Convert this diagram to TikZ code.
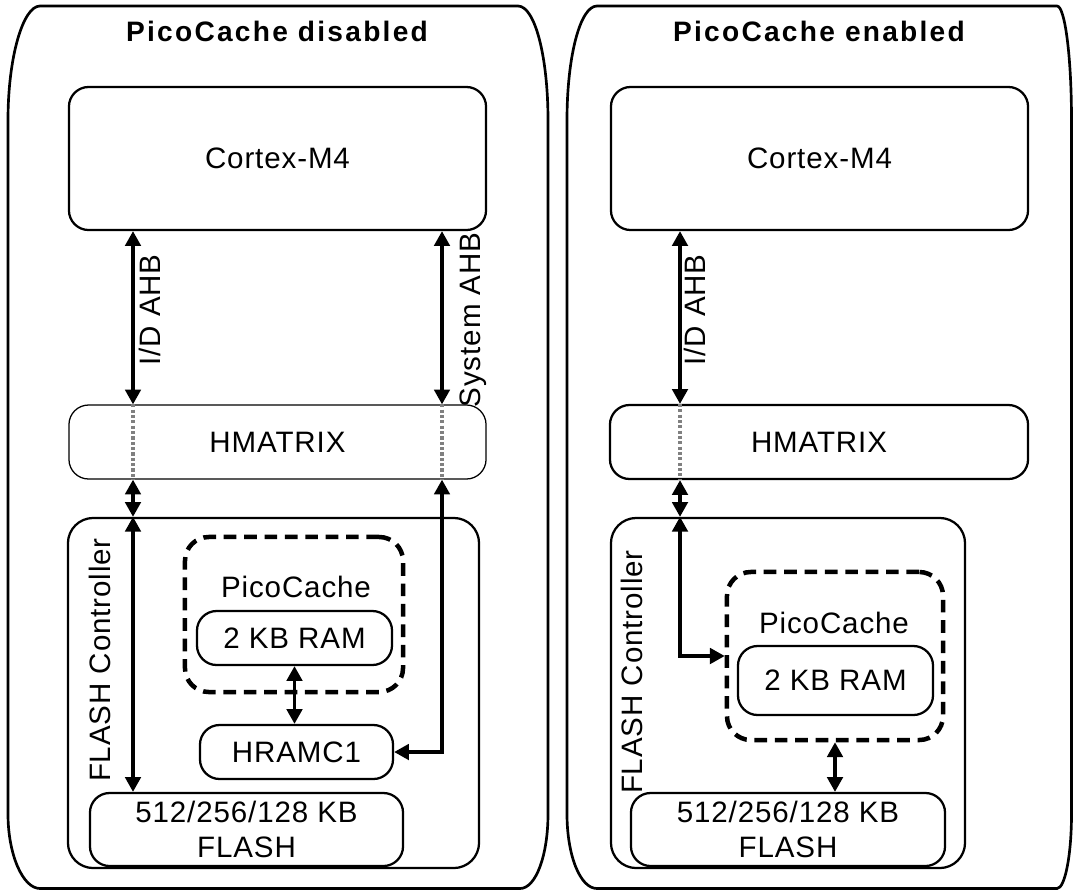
\documentclass[tikz,border=0pt]{standalone}
\usepackage{fontspec}
\setmainfont{Liberation Sans}
\newfontfamily\lblfont[LetterSpace=3]{Liberation Sans}
\newfontfamily\ttlfont[LetterSpace=8]{Liberation Sans}
\usetikzlibrary{arrows.meta}

\begin{document}
\begin{tikzpicture}[x=0.025cm, y=-0.025cm,
    every node/.style={font=\lblfont\fontsize{21}{25}\selectfont, inner sep=0pt},
    blk/.style={draw, rounded corners=14pt, line width=1.6pt},
    cachebox/.style={draw, rounded corners=17pt, line width=3.2pt, dash pattern=on 9pt off 5.5pt},
    biarr/.style={{Triangle[length=10.5pt,width=11pt]}-{Triangle[length=10.5pt,width=11pt]}, line width=2.4pt},
    dotbus/.style={gray, line width=2.6pt, dash pattern=on 2.2pt off 1.6pt},
    panel/.style={line width=1.9pt},
    ttl/.style={font=\ttlfont\bfseries\fontsize{20}{24}\selectfont}]
    \useasboundingbox (0,0) rectangle (1073,890);

    % outer panels
    \draw[panel] (40,6) -- (518,6) .. controls (535,6) and (548,57) .. (548,120) -- (548,814)
        .. controls (548,855) and (536,888.5) .. (520,888.5) -- (40,888.5)
        .. controls (23,888.5) and (8,855) .. (8,814) -- (8,120) .. controls (8,57) and (23,6) .. (40,6) -- cycle;
    \draw[panel] (597,6) -- (1057,6) .. controls (1065,6) and (1071.5,57) .. (1071.5,120) -- (1071.5,814)
        .. controls (1071.5,855) and (1065,888.5) .. (1057,888.5) -- (597,888.5)
        .. controls (580,888.5) and (567,855) .. (567,814) -- (567,120) .. controls (567,57) and (580,6) .. (597,6) -- cycle;

    \node[ttl] (ttlL) at (277,31) {PicoCache disabled};
    \node[ttl] (ttlR) at (819,31) {PicoCache enabled};

    % PicoCache disabled
    \coordinate (busL) at (133,0);
    \coordinate (sysL) at (442,0);
    \node[blk, minimum width=10.425cm, minimum height=3.575cm] (cpuL) at (277.5,158.5) {Cortex-M4};
    \node[blk, line width=0.9pt, minimum width=10.425cm, minimum height=1.85cm] (hmxL) at (277.5,442) {HMATRIX};
    \node[blk, rounded corners=18pt, minimum width=10.275cm, minimum height=8.75cm] (ctrlL) at (273.5,693) {};
    \node[cachebox, minimum width=5.45cm, minimum height=3.875cm] (cacheL) at (294,614.5) {};
    \node (cacheLtxt) at (296,587) {PicoCache};
    \node[blk, minimum width=4.875cm, minimum height=1.35cm] (ramL) at (294.5,638) {2 KB RAM};
    \node[blk, minimum width=4.825cm, minimum height=1.35cm] (hramc) at (296.5,752) {HRAMC1};
    \node[blk, minimum width=7.825cm, minimum height=1.825cm, align=center] (flashL) at (246.5,829.5) {512/256/128 KB\\FLASH};
    \node[rotate=90] (ctrlLtxt) at (100,660) {FLASH Controller};
    \node[rotate=90] (idL) at (150,310) {I/D AHB};
    \node[rotate=90] (sysLtxt) at (473,320) {System AHB};

    \draw[biarr] (cpuL.south -| busL) -- (hmxL.north -| busL);
    \draw[biarr] (cpuL.south -| sysL) -- (hmxL.north -| sysL);
    \draw[dotbus] (hmxL.north -| busL) -- (hmxL.south -| busL);
    \draw[dotbus] (hmxL.north -| sysL) -- (hmxL.south -| sysL);
    \draw[biarr] (hmxL.south -| busL) -- (ctrlL.north -| busL);
    \draw[biarr] (ctrlL.north -| busL) -- (flashL.north -| busL);
    \draw[biarr] (ramL.south) -- (ramL.south |- hramc.north);
    \draw[biarr] (hramc.east) -| (hmxL.south -| sysL);

    % PicoCache enabled
    \coordinate (busR) at (680,0);
    \node[blk, minimum width=10.425cm, minimum height=3.575cm] (cpuR) at (819.5,158.5) {Cortex-M4};
    \node[blk, minimum width=10.45cm, minimum height=1.85cm] (hmxR) at (819,442) {HMATRIX};
    \node[blk, rounded corners=18pt, minimum width=8.85cm, minimum height=8.75cm] (ctrlR) at (788,693) {};
    \node[cachebox, minimum width=5.4cm, minimum height=4.2cm] (cacheR) at (835,656) {};
    \node (cacheRtxt) at (834,623) {PicoCache};
    \node[blk, minimum width=4.875cm, minimum height=1.725cm] (ramR) at (835.5,680.5) {2 KB RAM};
    \node[blk, minimum width=7.85cm, minimum height=1.825cm, align=center] (flashR) at (788,829.5) {512/256/128 KB\\FLASH};
    \node[rotate=90] (ctrlRtxt) at (632,672) {FLASH Controller};
    \node[rotate=90] (idR) at (695,310) {I/D AHB};

    \draw[biarr] (cpuR.south -| busR) -- (hmxR.north -| busR);
    \draw[dotbus] (hmxR.north -| busR) -- (hmxR.south -| busR);
    \draw[biarr] (hmxR.south -| busR) -- (ctrlR.north -| busR);
    \draw[biarr] (ctrlR.north -| busR) |- (cacheR.west);
    \draw[biarr] (cacheR.south) -- (cacheR.south |- flashR.north);
\end{tikzpicture}
\end{document}
